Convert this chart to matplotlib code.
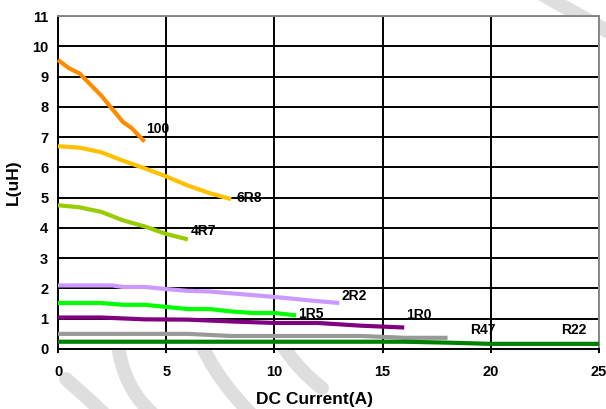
import matplotlib
matplotlib.use("Agg")

import matplotlib.pyplot as plt
from matplotlib.path import Path
from matplotlib.patches import PathPatch

plt.rcParams["font.family"] = ["Liberation Sans", "DejaVu Sans"]
plt.rcParams["font.weight"] = "bold"

# inductance vs DC current, one curve per part
x_100 = [0, 0.5, 1, 2, 3, 3.4, 4]
l_100 = [9.55, 9.28, 9.1, 8.37, 7.5, 7.3, 6.85]

x_6r8 = [0, 1, 2, 3, 4, 5, 6, 7, 8]
l_6r8 = [6.7, 6.65, 6.5, 6.22, 5.97, 5.7, 5.4, 5.15, 4.95]

x_4r7 = [0, 1, 2, 3, 4, 5, 6]
l_4r7 = [4.75, 4.68, 4.53, 4.25, 4.05, 3.8, 3.62]

x_2r2 = [0, 1, 2, 2.5, 3, 4, 5, 6, 7, 8, 9, 10, 11, 12, 13]
l_2r2 = [2.1, 2.1, 2.1, 2.1, 2.05, 2.05, 1.98, 1.92, 1.9, 1.84, 1.78, 1.72, 1.65, 1.58, 1.52]

x_1r5 = [0, 1, 2, 3, 4, 5, 6, 7, 8, 9, 10, 11]
l_1r5 = [1.52, 1.52, 1.52, 1.46, 1.46, 1.39, 1.32, 1.32, 1.24, 1.19, 1.19, 1.11]

x_1r0 = [0, 2, 4, 6, 8, 10, 12, 14, 16]
l_1r0 = [1.04, 1.04, 0.98, 0.97, 0.91, 0.86, 0.86, 0.77, 0.71]

x_r47 = [0, 6, 8, 14, 16, 18]
l_r47 = [0.5, 0.5, 0.43, 0.43, 0.37, 0.37]

x_r22 = [0, 16, 18, 20, 25]
l_r22 = [0.24, 0.24, 0.21, 0.17, 0.17]

labels = ["100", "6R8", "4R7", "2R2", "1R5", "1R0", "R47", "R22"]
label_x = [4.05, 8.25, 6.15, 13.1, 11.1, 16.1, 19.05, 23.25]
label_y = [7.27, 4.98, 3.9, 1.74, 1.15, 1.13, 0.63, 0.63]

colors = ["#FF8C00", "#FFC000", "#99CC00", "#CC99FF", "#00FF00", "#800080", "#999999", "#008000"]

W, H = 606, 409
fig = plt.figure(figsize=(W / 100, H / 100), dpi=100)

# light grey watermark strokes, pixel coords with y measured from the top
strokes = [
    [(66, 379), (79, 391), (94, 403), (108, 418)],
    [(115, 320), (118, 365), (128, 395), (160, 420)],
    [(192, 320), (203, 355), (222, 385), (255, 418)],
    [(268, 320), (285, 355), (305, 375), (322, 388)],
    [(535, -10), (560, 5), (585, 18), (612, 34)],
]
for pts in strokes:
    verts = [(px, H - py) for px, py in pts]
    path = Path(verts, [Path.MOVETO, Path.CURVE4, Path.CURVE4, Path.CURVE4])
    fig.patches.append(PathPatch(path, transform=None, facecolor="none",
                                 edgecolor="#DEDEDE", linewidth=10,
                                 capstyle="round", zorder=-1))

ax = fig.add_axes([58 / W, 1 - 349 / H, 541 / W, 333 / H])
ax.set_facecolor("white")

series = [
    (x_100, l_100), (x_6r8, l_6r8), (x_4r7, l_4r7), (x_2r2, l_2r2),
    (x_1r5, l_1r5), (x_1r0, l_1r0), (x_r47, l_r47), (x_r22, l_r22),
]
for (xs, ys), c in zip(series, colors):
    ax.plot(xs, ys, color=c, linewidth=3, zorder=3, clip_on=False, solid_capstyle="butt")

for name, lx, ly in zip(labels, label_x, label_y):
    ax.text(lx, ly, name, fontsize=10, fontweight="bold", va="center", ha="left", zorder=4)

ax.set_xlim(0, 25)
ax.set_ylim(0, 11)
ax.set_xticks(range(0, 26, 5))
ax.set_yticks(range(0, 12))
ax.grid(True, color="black", linewidth=1.4, zorder=1)
ax.set_axisbelow(True)
ax.tick_params(axis="x", length=3, width=1.4, direction="out", labelsize=10.5, pad=8.5)
ax.tick_params(axis="y", length=0, labelsize=10.5, pad=7)
for lab in ax.get_xticklabels() + ax.get_yticklabels():
    lab.set_fontweight("bold")

for side in ["left", "bottom"]:
    ax.spines[side].set_color("black")
    ax.spines[side].set_linewidth(1.4)
for side in ["top", "right"]:
    ax.spines[side].set_color("#888888")
    ax.spines[side].set_linewidth(1.4)

ax.set_xlabel("DC Current(A)", fontsize=12.5, fontweight="bold")
ax.xaxis.set_label_coords(0.475, -0.128)
ax.set_ylabel("L(uH)", fontsize=12.5, fontweight="bold", labelpad=8)

fig.savefig("out.png", dpi=100)
